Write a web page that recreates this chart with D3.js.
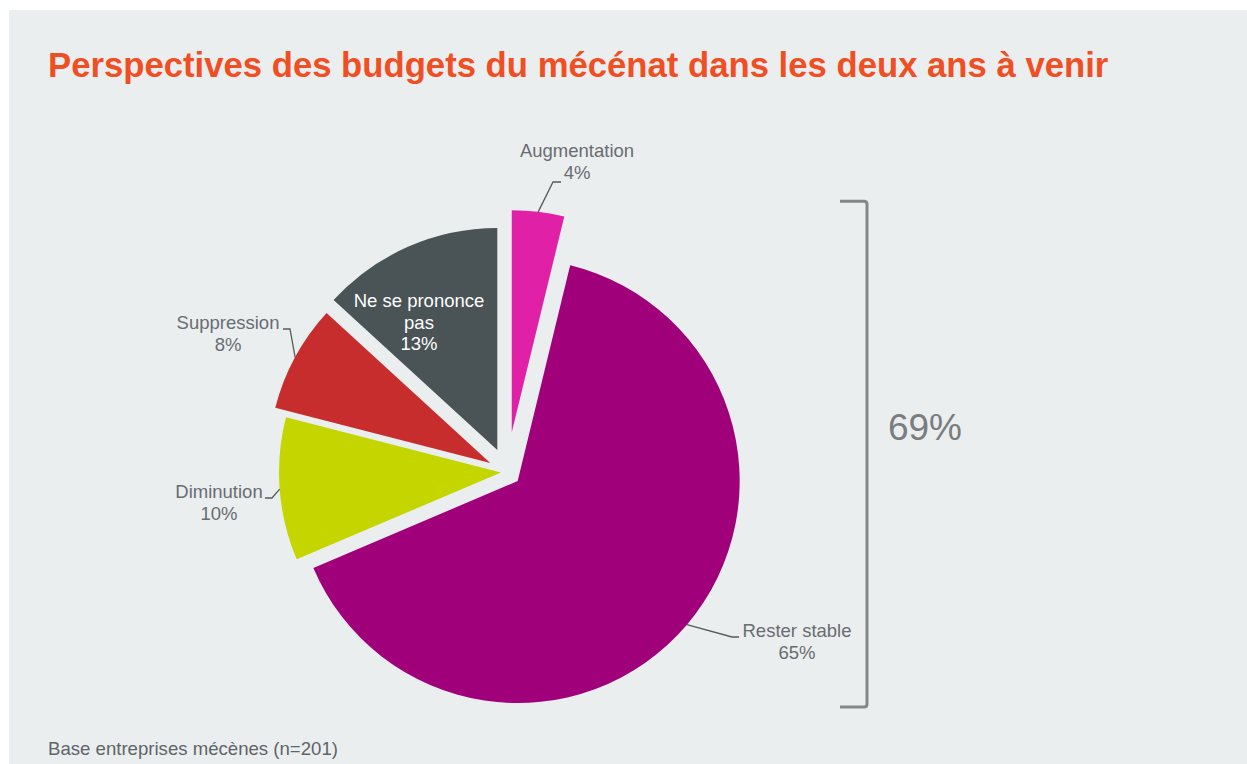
<!DOCTYPE html>
<html>
<head>
<meta charset="utf-8">
<title>Perspectives des budgets du mécénat</title>
<script src="https://d3js.org/d3.v7.min.js"></script>
<style>
  body { margin: 0; background: #ffffff; }
  svg { display: block; font-family: "Liberation Sans", Arial, sans-serif; }
</style>
</head>
<body>
<svg width="1247" height="764"></svg>
<script>
// data (slice shares; labels show them rounded)
var categories = ["Augmentation", "Rester stable", "Diminution", "Suppression", "Ne se prononce pas"];
var values = [3.8, 64.8, 10.4, 7.8, 13.2];
var colors = ["#e020a6", "#a0007a", "#c4d500", "#c82d2d", "#4a5355"];
var bracketGroup = ["Augmentation", "Rester stable"];

// layout
var cx = 507, cy = 472, R = 222;
var explode = {"Augmentation": 40, "Rester stable": 14, "Diminution": 6, "Suppression": 19, "Ne se prononce pas": 24};
// label anchor (text centre x, first baseline y) and elbow for leader lines
var labelPos = {
  "Augmentation":  {x: 577, y: 157, elbow: [553, 182], end: [561, 182]},
  "Rester stable": {x: 797, y: 637, elbow: [732, 637], end: [739, 637]},
  "Diminution":    {x: 219, y: 498, elbow: [272, 498], end: [265, 498]},
  "Suppression":   {x: 228, y: 329, elbow: [290, 329], end: [283, 329]},
  "Ne se prononce pas": {x: 419, y: 307, inside: true}
};

var svg = d3.select("svg");

// panel
svg.append("rect")
  .attr("x", 9).attr("y", 10)
  .attr("width", 1247 - 9).attr("height", 764 - 10)
  .attr("fill", "#ebeeef");

// title
svg.append("text")
  .attr("x", 48).attr("y", 77)
  .attr("fill", "#f04e23")
  .style("font-size", "34.7px")
  .style("font-weight", "bold")
  .text("Perspectives des budgets du mécénat dans les deux ans à venir");

// footer
svg.append("text")
  .attr("x", 48).attr("y", 755)
  .attr("fill", "#5f6468")
  .style("font-size", "18.6px")
  .text("Base entreprises mécènes (n=201)");

var data = categories.map(function(c, i) { return {cat: c, value: values[i], color: colors[i]}; });

var pie = d3.pie().sort(null).value(function(d) { return d.value; }).startAngle(0).endAngle(2 * Math.PI);
var arcs = pie(data);
var arc = d3.arc().innerRadius(0).outerRadius(R);

function offsetOf(a) {
  var mid = (a.startAngle + a.endAngle) / 2;
  var e = explode[a.data.cat];
  return [cx + Math.sin(mid) * e, cy - Math.cos(mid) * e];
}

var g = svg.append("g");

g.selectAll("path.slice")
  .data(arcs)
  .enter()
  .append("path")
  .attr("class", "slice")
  .attr("transform", function(d) { var o = offsetOf(d); return "translate(" + o[0] + "," + o[1] + ")"; })
  .attr("d", arc)
  .attr("fill", function(d) { return d.data.color; });

// leader lines
arcs.forEach(function(a) {
  var lp = labelPos[a.data.cat];
  if (lp.inside) return;
  var o = offsetOf(a);
  var mid = (a.startAngle + a.endAngle) / 2;
  var sx = o[0] + Math.sin(mid) * R, sy = o[1] - Math.cos(mid) * R;
  g.append("polyline")
    .attr("points", [[sx, sy], lp.elbow, lp.end].map(function(p) { return p.join(","); }).join(" "))
    .attr("fill", "none")
    .attr("stroke", "#5a5a5a")
    .attr("stroke-width", 1.3);
});

// labels
arcs.forEach(function(a) {
  var lp = labelPos[a.data.cat];
  var pct = Math.round(a.data.value) + "%";
  var lines = lp.inside ? ["Ne se prononce", "pas", pct] : [a.data.cat, pct];
  var t = g.append("text")
    .attr("text-anchor", "middle")
    .attr("fill", lp.inside ? "#ffffff" : "#686c72")
    .style("font-size", "18.5px");
  lines.forEach(function(l, i) {
    t.append("tspan").attr("x", lp.x).attr("y", lp.y + i * 21.5).text(l);
  });
});

// bracket for Augmentation + Rester stable
var topArc = arcs.filter(function(a) { return a.data.cat === bracketGroup[0]; })[0];
var botArc = arcs.filter(function(a) { return a.data.cat === bracketGroup[1]; })[0];
var bTop = offsetOf(topArc)[1] - R - 9;
var bBot = offsetOf(botArc)[1] + R + 4;
var bx = 867;
svg.append("path")
  .attr("d", "M" + (bx - 27) + "," + bTop + " L" + (bx - 3) + "," + bTop + " Q" + bx + "," + bTop + " " + bx + "," + (bTop + 3) +
             " L" + bx + "," + (bBot - 3) + " Q" + bx + "," + bBot + " " + (bx - 3) + "," + bBot + " L" + (bx - 27) + "," + bBot)
  .attr("fill", "none")
  .attr("stroke", "#858687")
  .attr("stroke-width", 3);

var total = Math.round(d3.sum(data.filter(function(d) { return bracketGroup.indexOf(d.cat) >= 0; }), function(d) { return d.value; }));
svg.append("text")
  .attr("x", 925).attr("y", 440)
  .attr("text-anchor", "middle")
  .attr("fill", "#7a7c7e")
  .style("font-size", "37px")
  .text(total + "%");
</script>
</body>
</html>
